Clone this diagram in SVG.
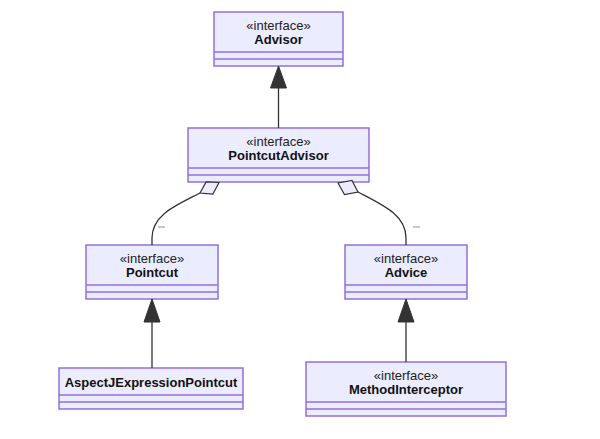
<svg xmlns="http://www.w3.org/2000/svg" width="600" height="439" viewBox="0 0 600 439">
<defs>
<style>
.box{fill:#ECECFF;stroke:#9370DB;stroke-width:1.5}
.div{stroke:#9370DB;stroke-width:1.5}
.st{font-family:"Liberation Sans",Arial,sans-serif;font-size:13px;fill:#222;text-anchor:middle}
.nm{font-family:"Liberation Sans",Arial,sans-serif;font-size:13px;font-weight:bold;fill:#111;text-anchor:middle}
.edge{fill:none;stroke:#333;stroke-width:1.3}
.tri{fill:#333;stroke:#333;stroke-width:1}
.dia{fill:#ECECFF;stroke:#333;stroke-width:1.2}
.lbl{fill:#c8c8c8}
</style>
</defs>
<rect width="600" height="439" fill="#fff"/>
<g id="Advisor">
<rect class="box" x="214" y="12" width="129" height="54"/>
<line class="div" x1="214" y1="52" x2="343" y2="52"/>
<line class="div" x1="214" y1="59" x2="343" y2="59"/>
<text class="st" x="278.5" y="29.5">«interface»</text>
<text class="nm" x="278.5" y="44">Advisor</text>
</g>
<g id="PointcutAdvisor">
<rect class="box" x="188" y="128" width="181" height="54"/>
<line class="div" x1="188" y1="168" x2="369" y2="168"/>
<line class="div" x1="188" y1="175" x2="369" y2="175"/>
<text class="st" x="278.5" y="145.5">«interface»</text>
<text class="nm" x="278.5" y="160">PointcutAdvisor</text>
</g>
<g id="Pointcut">
<rect class="box" x="86" y="245" width="132" height="54"/>
<line class="div" x1="86" y1="285" x2="218" y2="285"/>
<line class="div" x1="86" y1="292" x2="218" y2="292"/>
<text class="st" x="152" y="262.5">«interface»</text>
<text class="nm" x="152" y="277">Pointcut</text>
</g>
<g id="Advice">
<rect class="box" x="345" y="245" width="122" height="54"/>
<line class="div" x1="345" y1="285" x2="467" y2="285"/>
<line class="div" x1="345" y1="292" x2="467" y2="292"/>
<text class="st" x="406" y="262.5">«interface»</text>
<text class="nm" x="406" y="277">Advice</text>
</g>
<g id="AspectJExpressionPointcut">
<rect class="box" x="59" y="368" width="184" height="41"/>
<line class="div" x1="59" y1="395" x2="243" y2="395"/>
<line class="div" x1="59" y1="402" x2="243" y2="402"/>
<text class="nm" x="151" y="386.5">AspectJExpressionPointcut</text>
</g>
<g id="MethodInterceptor">
<rect class="box" x="306" y="362" width="200" height="54"/>
<line class="div" x1="306" y1="402" x2="506" y2="402"/>
<line class="div" x1="306" y1="409" x2="506" y2="409"/>
<text class="st" x="406" y="379.5">«interface»</text>
<text class="nm" x="406" y="394">MethodInterceptor</text>
</g>
<g id="connectors">
<line class="edge" x1="278.5" y1="88" x2="278.5" y2="128"/>
<polygon class="tri" points="278.5,66 270.5,88 286.5,88"/>
<line class="edge" x1="152" y1="322" x2="152" y2="368"/>
<polygon class="tri" points="152,299 144,322 160,322"/>
<line class="edge" x1="406" y1="322" x2="406" y2="362"/>
<polygon class="tri" points="406,299 398,322 414,322"/>
<path class="edge" d="M200,193 C175,206 152,215 152,238 L152,245"/>
<polygon class="dia" points="219,182.5 206.1,181.9 200,193 212.9,194.1"/>
<rect class="lbl" x="158" y="226" width="7" height="2"/>
<path class="edge" d="M358,192 C383,205 406,215 406,238 L406,245"/>
<polygon class="dia" points="338,183 352,180.5 358,192 344.5,194.5"/>
<rect class="lbl" x="413" y="226" width="7" height="2"/>
</g>
</svg>
